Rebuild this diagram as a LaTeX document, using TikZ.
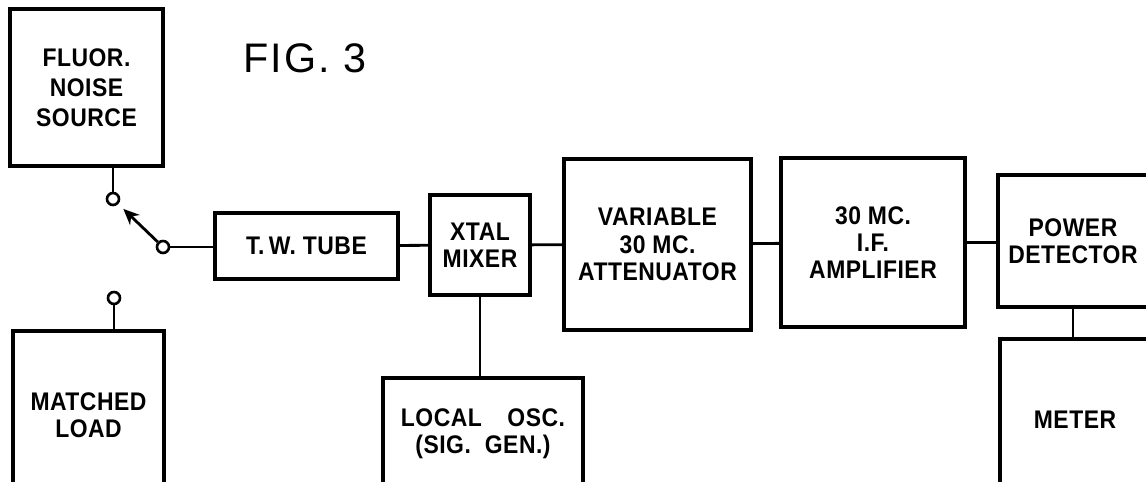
\documentclass[tikz,border=0pt]{standalone}
\usepackage{fontspec}
\newfontfamily\letterfont[FakeStretch=0.9,LetterSpace=2]{Liberation Sans}
\newfontfamily\figfont[LetterSpace=5]{Liberation Sans}
\usetikzlibrary{arrows.meta}
\tikzset{
blk/.style={draw,line width=2pt,align=center,inner sep=0pt,
  font=\letterfont\bfseries\fontsize{14.5}{15.5}\selectfont},
contact/.style={circle,draw,line width=1.5pt,inner sep=0pt,minimum size=0.24cm},
wire/.style={line width=1.6pt}
}
\begin{document}
\begin{tikzpicture}[x=0.02cm,y=-0.02cm]
\useasboundingbox (0,0) rectangle (1146,482);
\clip (0,0) rectangle (1146,482);
% blocks
\node[blk,font=\letterfont\bfseries\fontsize{14.5}{17}\selectfont,
  minimum width=3.06cm,minimum height=3.14cm] (fluor) at (86.5,87.5) {FLUOR.\\NOISE\\SOURCE};
\node[blk,minimum width=3.02cm,minimum height=3.38cm] (load) at (88.5,415.5) {MATCHED\\LOAD};
\node[blk,minimum width=3.66cm,minimum height=1.32cm] (tube) at (306.5,246) {T.\,W. TUBE};
\node[blk,minimum width=2cm,minimum height=2cm] (mixer) at (480,245) {XTAL\\MIXER};
\node[blk,minimum width=3.74cm,minimum height=3.42cm] (atten) at (657.5,244.5) {VARIABLE\\30 MC.\\ATTENUATOR};
\node[blk,minimum width=3.68cm,minimum height=3.38cm] (amp) at (873,242.5) {30 MC.\\I.F.\\AMPLIFIER};
\node[blk,minimum width=3cm,minimum height=2.64cm] (pd) at (1073,241) {POWER\\DETECTOR};
\node[blk,minimum width=3cm,minimum height=3.22cm] (meter) at (1075,419.5) {METER};
\node[blk,minimum width=4cm,minimum height=2.24cm] (osc) at (483,434) {LOCAL\quad OSC.\\(SIG.\; GEN.)};
\node[font=\figfont\fontsize{23.5}{24}\selectfont] (fig) at (305,58) {FIG. 3};
% switch
\node[contact] (up) at (113,199) {};
\node[contact] (piv) at (163,247) {};
\node[contact] (dn) at (114,298) {};
\draw[wire] (up |- fluor.south) -- (up);
\draw[wire] (dn) -- (dn |- load.north);
\draw[wire,-{Stealth[length=0.32cm,width=0.28cm]},shorten >=4pt] (piv) -- (up);
\draw[wire] (piv) -- (piv -| tube.west);
% chain
\draw[wire] (tube) -- (mixer);
\draw[wire] (mixer) -- (atten);
\draw[wire] (atten) -- (amp);
\draw[wire] (amp.east) -- (amp.east -| pd.west);
\draw[wire] (mixer.south) -- (mixer.south |- osc.north);
\draw[wire] (pd.south) -- (pd.south |- meter.north);
\end{tikzpicture}
\end{document}
